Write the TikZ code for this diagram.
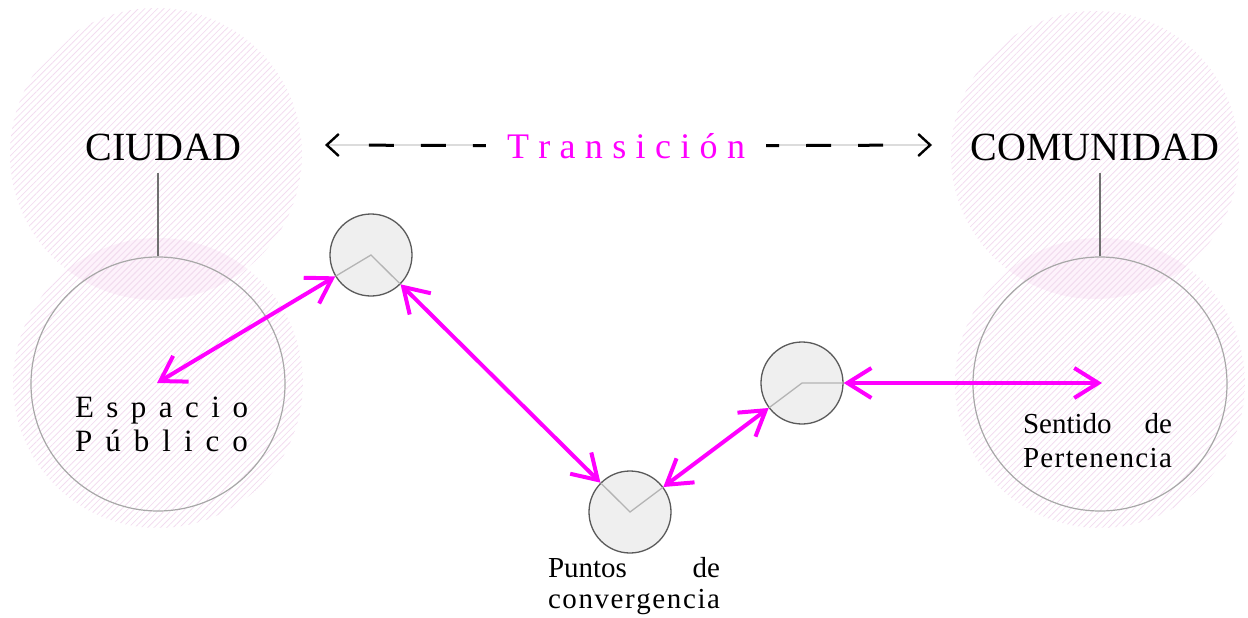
\documentclass[tikz,border=0pt]{standalone}
\usepackage{fontspec}
\setmainfont{Liberation Serif}
\usetikzlibrary{arrows.meta,calc,patterns.meta}
\definecolor{hatchc}{HTML}{F3DDF0}
\definecolor{tintc}{HTML}{FDF2FB}
\definecolor{mag}{HTML}{FF00FF}
\definecolor{ringc}{HTML}{A8A8A8}
\definecolor{stemc}{HTML}{707070}
\definecolor{dotfill}{HTML}{EFEFEF}
\definecolor{dotborder}{HTML}{5A5A5A}
\definecolor{spoke}{HTML}{B4B4B4}
\definecolor{railc}{HTML}{DCDCDC}
\tikzset{
 hatchdisc/.style={pattern={Lines[angle=45,distance=4.5pt,line width=0.8pt]},pattern color=hatchc},
 ring/.style={circle,draw=ringc,line width=1.2pt,minimum size=254pt,inner sep=0pt},
 stem/.style={draw=stemc,line width=1.2pt},
 dotnode/.style={circle,draw=dotborder,fill=dotfill,line width=1.3pt,minimum size=82pt,inner sep=0pt},
 spokeline/.style={draw=spoke,line width=1.3pt},
 marrow/.style={draw=mag,line width=4pt,{Straight Barb[length=24pt,width=30pt]}-{Straight Barb[length=24pt,width=30pt]}},
 bigtitle/.style={font=\fontsize{40}{48}\selectfont,inner sep=0pt,inner ysep=12.5pt,anchor=base},
 transtext/.style={font=\fontsize{36}{42}\selectfont,text=mag,fill=white,inner xsep=21pt,inner ysep=2pt,anchor=base},
 lbl/.style={font=\fontsize{31}{34}\selectfont,inner sep=0pt,anchor=base},
 lblsmall/.style={font=\fontsize{29}{32}\selectfont,inner sep=0pt,anchor=base},
 rail/.style={draw=railc,line width=1.6pt},
 raildash/.style={draw=black,line width=3pt,dash pattern=on 13pt off 27pt on 25pt off 27pt on 25pt off 200pt},
 railtip/.style={draw=black,line width=2.4pt,-{Straight Barb[length=12pt,width=22pt]}}
}
\begin{document}
\begin{tikzpicture}[x=1pt,y=-1pt]
\useasboundingbox (0,0) rectangle (1248,618);
% overlap tints
\begin{scope}
 \clip (156,154) circle[radius=146pt];
 \fill[tintc] (158,383) circle[radius=145pt];
\end{scope}
\begin{scope}
 \clip (1095,155) circle[radius=144pt];
 \fill[tintc] (1100,383) circle[radius=145pt];
\end{scope}
% hatched discs
\path[hatchdisc] (156,154) circle[radius=146pt];
\path[hatchdisc] (158,383) circle[radius=145pt];
\path[hatchdisc] (1095,155) circle[radius=144pt];
\path[hatchdisc] (1100,383) circle[radius=145pt];
% big rings
\node[ring] (espc) at (158,384) {};
\node[ring] (comc) at (1100,384) {};
% titles
\node[bigtitle] (ciudad) at (163.5,160) {CIUDAD};
\node[bigtitle] (comunidad) at (1095,160) {COMUNIDAD};
\draw[stem] (espc.north) -- (espc.north |- ciudad.south);
\draw[stem] (comc.north) -- (comc.north |- comunidad.south);
% transition rail
\coordinate (tl) at (325,145);
\coordinate (tr) at (932,145);
\draw[rail] (tl) -- (tr);
\node[transtext] (trans) at (626,158) {\makebox[238pt]{T\hfill r\hfill a\hfill n\hfill s\hfill i\hfill c\hfill i\hfill ó\hfill n}};
\draw[raildash] (trans.west) -- (tl);
\draw[raildash] (trans.east) -- (tr);
\draw[railtip] ([xshift=1pt]tl) -- (tl);
\draw[railtip] ([xshift=-1pt]tr) -- (tr);
% small circles
\node[dotnode] (c1) at (371,255) {};
\node[dotnode] (c2) at (802,383) {};
\node[dotnode] (c3) at (630,512) {};
\coordinate (ep) at (157,383);
\coordinate (sp) at (1102,383);
\draw[spokeline] ($(c1.center)!41pt!(ep)$) -- (c1.center) -- ($(c1.center)!41pt!(c3)$);
\draw[spokeline] ($(c3.center)!41pt!(c1)$) -- (c3.center) -- ($(c3.center)!41pt!(c2)$);
\draw[spokeline] ($(c2.center)!41pt!(c3)$) -- (c2.center) -- ($(c2.center)!41pt!(sp)$);
% magenta arrows
\draw[marrow] (ep) -- (c1);
\draw[marrow] (c1) -- (c3);
\draw[marrow] (c3) -- (c2);
\draw[marrow] (c2) -- (sp);
% labels
\node[lbl] (esp1) at (161.5,417) {\makebox[173pt]{E\hfill s\hfill p\hfill a\hfill c\hfill i\hfill o}};
\node[lbl] (esp2) at (161.5,451) {\makebox[173pt]{P\hfill ú\hfill b\hfill l\hfill i\hfill c\hfill o}};
\node[lblsmall] (sen1) at (1097.5,433) {\makebox[149pt]{Sentido\hfill de}};
\node[lblsmall] (sen2) at (1097.5,467) {\makebox[149pt]{P\hfill e\hfill r\hfill t\hfill e\hfill n\hfill e\hfill n\hfill c\hfill i\hfill a}};
\node[lblsmall] (pun1) at (634,577) {\makebox[172pt]{Puntos\hfill de}};
\node[lblsmall] (pun2) at (634,608) {\makebox[172pt]{c\hfill o\hfill n\hfill v\hfill e\hfill r\hfill g\hfill e\hfill n\hfill c\hfill i\hfill a}};
\end{tikzpicture}
\end{document}
